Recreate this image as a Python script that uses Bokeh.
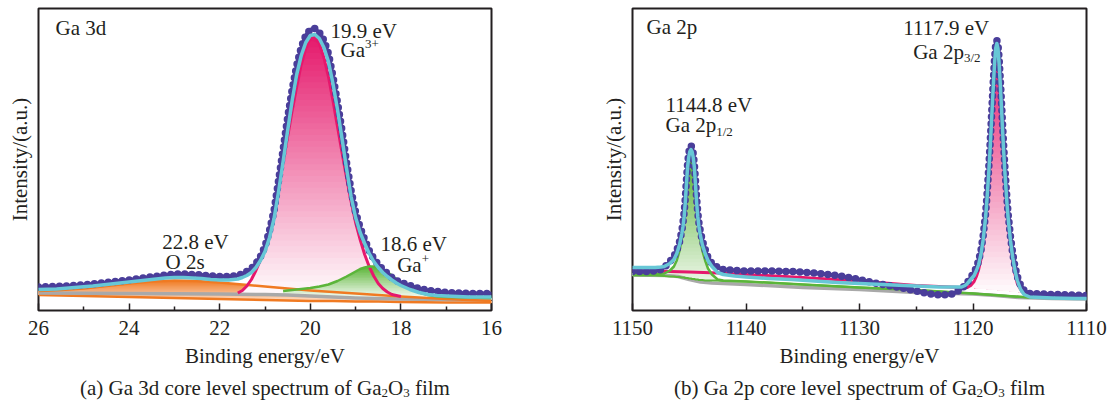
import numpy as np
from bokeh.plotting import figure
from bokeh.models import Range1d, Label, FixedTicker
from bokeh.layouts import row, column
from bokeh.embed import file_html
from bokeh.resources import INLINE

# ---------------- (a) Ga 3d ----------------
ga3d_energy = [26.0, 25.6, 25.2, 24.8, 24.4, 24.0, 23.6, 23.2, 23.0, 22.8, 22.6, 22.4, 22.2, 22.0,
               21.8, 21.6, 21.5, 21.4, 21.3, 21.2, 21.1, 21.0, 20.9, 20.8, 20.7, 20.6, 20.5, 20.4,
               20.3, 20.2, 20.1, 20.0, 19.9, 19.8, 19.7, 19.6, 19.5, 19.4, 19.3, 19.2, 19.1, 19.0,
               18.9, 18.8, 18.7, 18.6, 18.5, 18.4, 18.3, 18.2, 18.1, 18.0, 17.8, 17.6, 17.4, 17.2,
               17.0, 16.5, 16.0]
ga3d_counts = [23.5, 24, 25, 26.5, 28.5, 30.5, 33, 35.5, 36.5, 36.5, 36, 35.5, 34.5, 34,
               34, 35, 36.5, 39, 42, 47, 54, 64, 80, 100, 130, 161, 193, 221,
               245, 263, 275, 281, 282, 278, 270, 257, 234, 208, 180, 148, 120, 98,
               83, 71, 60, 52, 46, 41, 37, 33, 30, 28, 25, 22, 20, 19,
               18, 17, 17]
ga3d_fit = [21, 21.5, 23, 24.5, 26.5, 28.5, 30.5, 32.5, 33, 33, 32.5, 32, 31, 30.5,
            30.5, 31.5, 33, 35, 38, 43, 50, 59, 73, 92, 119, 149, 180, 210,
            236, 255, 268, 275, 276, 272, 263, 249, 227, 201, 172, 142, 114, 93,
            78, 67, 57, 49, 43, 38, 34, 30.5, 27.5, 25, 21, 18, 16, 15,
            14.5, 13.5, 13.5]
ga3d_bg_energy = [26, 24, 22, 21, 20.5, 20, 19.5, 19, 18.5, 18, 17, 16]
ga3d_bg = [17.5, 17, 16.5, 16, 15.5, 14.5, 13.5, 12.5, 12, 11.5, 11, 11]

o2s_energy = [26, 25.5, 25, 24.5, 24, 23.5, 23, 22.5, 22, 21.5, 21, 20.5, 20, 19.5, 19, 18.5, 18, 17, 16]
o2s_top = [19.5, 20.5, 22, 24.5, 27, 29, 30, 29.5, 28, 26, 24, 22, 20, 18.5, 17, 15.5, 14, 11.5, 9.5]
o2s_base = [15.5, 15, 14.5, 14, 13.5, 13, 12.5, 12, 11.5, 11, 10.5, 10, 9.5, 9.5, 9, 9, 8.5, 8, 8]

ga3plus_energy = [21.6, 21.5, 21.4, 21.3, 21.2, 21.1, 21.0, 20.9, 20.8, 20.7, 20.6, 20.5, 20.4, 20.3,
                  20.2, 20.1, 20.0, 19.93, 19.8, 19.7, 19.6, 19.5, 19.4, 19.3, 19.2, 19.1, 19.0, 18.9,
                  18.8, 18.7, 18.6, 18.5, 18.4, 18.3, 18.2, 18.0]
ga3plus_top = [17.5, 20, 24.5, 31, 40, 50.5, 64.5, 81.5, 100.5, 123, 148, 174, 200, 224,
               246, 262, 272, 275, 267, 253, 234, 210, 184, 158, 133, 109, 88, 71,
               56, 44, 34.5, 27, 22, 18.5, 16, 14]
ga3plus_base = [16, 16, 16, 16, 16, 16, 16, 15.5, 15.5, 15.5, 15.5, 15.5, 15, 15,
                15, 14.5, 14.5, 14, 14, 14, 13.5, 13.5, 13, 13, 13, 12.5, 12.5, 12.5,
                12.5, 12, 12, 12, 12, 12, 11.5, 11.5]

gaplus_energy = [20.6, 20.4, 20.2, 20.0, 19.8, 19.6, 19.4, 19.2, 19.0, 18.9, 18.8, 18.7, 18.6, 18.5,
                 18.4, 18.3, 18.2, 18.1, 18.0, 17.9, 17.8, 17.6, 17.4, 17.2, 17.0, 16.5, 16.0]
gaplus_top = [19.5, 20.5, 21.5, 22.5, 24, 26, 29.5, 34, 39, 41.5, 43, 44, 44, 43,
              41, 38.5, 35, 31.5, 28, 25, 22, 18, 15.5, 14, 13.5, 13, 12.5]
gaplus_base = [15.5, 15, 15, 14.5, 14, 14, 13.5, 13, 12.5, 12.5, 12.5, 12, 12, 12,
               12, 12, 11.5, 11.5, 11.5, 11.5, 11.5, 11, 11, 11, 11, 11, 11]

# ---------------- (b) Ga 2p ----------------
ga2p_energy = [1150, 1149, 1148, 1147.5, 1147.2, 1146.7, 1146.35, 1146.1, 1145.85, 1145.65,
               1145.55, 1145.45, 1145.35, 1145.25, 1145.15, 1145.05, 1144.95, 1144.85, 1144.75, 1144.65,
               1144.55, 1144.45, 1144.35, 1144.25, 1144.15, 1144.05, 1143.85, 1143.6, 1143.35, 1143.0,
               1142.5, 1142, 1141, 1140, 1138, 1136, 1134, 1132, 1130, 1128,
               1126, 1125, 1124, 1123, 1122, 1121.5, 1121, 1120.7, 1120.5, 1120.2,
               1119.9, 1119.7, 1119.5, 1119.3, 1119.1, 1118.9, 1118.8, 1118.7, 1118.6, 1118.5,
               1118.4, 1118.3, 1118.2, 1118.1, 1118.0, 1117.9, 1117.8, 1117.7, 1117.6, 1117.5,
               1117.4, 1117.3, 1117.2, 1117.1, 1117.0, 1116.9, 1116.7, 1116.5, 1116.3, 1116.1,
               1115.8, 1115.5, 1115, 1113, 1111, 1110]
ga2p_counts = [39, 39, 39.5, 41, 43, 49, 54, 60, 69, 80,
               88, 98, 112, 130, 146, 157, 163, 165, 163, 157,
               146, 130, 112, 98, 88, 81, 70, 61, 53, 47,
               43, 41, 40, 39.5, 39.5, 39, 37.5, 35, 31, 26,
               22, 19.5, 17, 15.5, 16, 18, 22, 25, 28, 33,
               38, 43, 50, 60, 75, 96, 110, 127, 145, 165,
               187, 210, 232, 252, 266, 270, 266, 252, 232, 210,
               187, 165, 145, 127, 110, 96, 74, 57, 44, 34,
               25, 20, 17, 16, 15.5, 15]
ga2p_fit = [43, 43, 43, 43.5, 44, 47, 51, 57, 66, 77,
            84, 94, 108, 126, 143, 153, 159, 161, 159, 153,
            143, 126, 108, 94, 84, 77, 66, 57, 50, 44,
            38, 36, 34.5, 33.5, 32, 31, 29.5, 28, 27, 26,
            25, 24.5, 24, 23.5, 23.5, 23.5, 23.5, 25, 27, 31,
            35, 40, 46, 56, 71, 92, 106, 123, 140, 160,
            182, 205, 227, 247, 262, 267, 262, 247, 227, 205,
            182, 160, 140, 123, 106, 92, 70, 53, 40, 30,
            21, 16, 13.5, 12.5, 12, 12]
ga2p_bg_energy = [1150, 1147, 1146, 1145, 1144, 1143, 1140, 1135, 1130, 1125, 1120, 1118, 1116, 1113, 1110]
ga2p_bg = [35.5, 35, 34, 31, 28.5, 27.5, 26, 23, 21, 18, 16.5, 15, 13, 12, 11.5]

p12_energy = [1150, 1148, 1147.2, 1146.7, 1146.35, 1146.1, 1145.85, 1145.65, 1145.55, 1145.45,
              1145.35, 1145.25, 1145.15, 1145.05, 1144.95, 1144.85, 1144.75, 1144.65, 1144.55, 1144.45,
              1144.35, 1144.25, 1144.15, 1144.05, 1143.85, 1143.6, 1143.35, 1143.0, 1142.5, 1142,
              1140, 1135, 1130, 1125, 1120, 1115, 1110]
p12_top = [37, 36.5, 37, 40, 44, 50, 60, 72, 80, 90,
           103, 120, 137, 149, 155, 157, 155, 149, 137, 120,
           103, 90, 80, 72, 60, 50, 42, 36, 31, 30,
           29, 26, 23, 20.5, 17, 13, 12]
p12_base = [35, 35, 34.5, 34, 34, 33.5, 33.5, 33, 33, 33,
            32.5, 32.5, 32.5, 32, 32, 32, 31.5, 31.5, 31.5, 31,
            31, 31, 30.5, 30.5, 30.5, 30, 30, 30, 30, 29.5,
            29, 26, 23, 20.5, 17, 13, 12]

p32_energy = [1150, 1145, 1142.5, 1135, 1130, 1125, 1121, 1120.5, 1120.2, 1119.9,
              1119.7, 1119.5, 1119.3, 1119.1, 1118.9, 1118.8, 1118.7, 1118.6, 1118.5, 1118.4,
              1118.3, 1118.2, 1118.1, 1118.0, 1117.9, 1117.8, 1117.7, 1117.6, 1117.5, 1117.4,
              1117.3, 1117.2, 1117.1, 1117.0, 1116.9, 1116.7, 1116.5, 1116.3, 1116.1, 1115.8,
              1115.5, 1115, 1112, 1110]
p32_top = [40, 38.5, 37.5, 33, 29.5, 25, 23, 23, 25, 29,
           34, 41, 51, 66, 87, 101, 118, 136, 156, 178,
           201, 223, 243, 258, 263, 258, 243, 223, 201, 178,
           156, 136, 118, 101, 87, 65, 48, 36, 27, 21,
           19, 17.5, 15.5, 14.5]
p32_base = [40, 38.5, 37.5, 33, 29.5, 25, 23, 22.8, 22.6, 22.4,
            22.2, 22, 21.8, 21.6, 21.4, 21.3, 21.2, 21.1, 21, 20.9,
            20.8, 20.7, 20.6, 20.5, 20.4, 20.3, 20.2, 20.1, 20, 19.9,
            19.8, 19.7, 19.6, 19.5, 19.4, 19.2, 19, 18.8, 18.6, 18.3,
            18, 17.5, 15.5, 14.5]

left_major_ticks = [26, 24, 22, 20, 18, 16]
left_minor_ticks = [25, 23, 21, 19, 17]
right_major_ticks = [1150, 1140, 1130, 1120, 1110]
right_minor_ticks = [1145, 1135, 1125, 1115]

# ---------------- styling ----------------
FONT = "Liberation Serif"
TXT = "#231f20"
PURPLE = "#4a3e9a"
CYAN = "#67c7d6"
PINK = "#e6186c"
GREEN = "#5bb53a"
ORANGE = "#f07a22"
GRAY = "#a9a9a9"

MAIN_H = 370   # height of the spectrum figures
CAP_H = 34     # height of the caption strip
BASE_FIX = 7   # label baseline correction (px)

TIMES_W = {' ': 250, '(': 333, ')': 333, 'a': 444, 'b': 500, 'c': 444, 'd': 500, 'e': 444,
           'f': 333, 'g': 500, 'i': 278, 'l': 278, 'm': 778, 'n': 500, 'o': 500, 'p': 500,
           'r': 333, 's': 389, 't': 278, 'u': 500, 'v': 500, 'y': 500, 'G': 722, 'O': 722,
           'V': 722, '.': 250, '/': 278, '+': 564}


def tw(s, size):
    return sum(TIMES_W.get(c, 500) for c in s) * size / 1000.0


def hex2rgb(h):
    h = h.lstrip('#')
    return [int(h[i:i + 2], 16) for i in (0, 2, 4)]


def mix(c0, c1, t):
    a, b = hex2rgb(c0), hex2rgb(c1)
    return "#%02x%02x%02x" % tuple(int(round(a[i] + (b[i] - a[i]) * t)) for i in range(3))


def grad_fill(p, x, top, base, c_top, c_bot, n=40):
    x = np.asarray(x, float)
    top = np.asarray(top, float)
    base = np.asarray(base, float)
    lo, hi = base.min(), top.max()
    for k in range(n, 0, -1):
        level = lo + (hi - lo) * k / n
        y2 = np.maximum(np.minimum(top, level), base)
        p.varea(x=x, y1=base, y2=y2, fill_color=mix(c_bot, c_top, (k - 0.5) / n))


def make_fig(x0, x1, width, bl, br, major, minor):
    p = figure(width=width, height=MAIN_H, x_range=Range1d(x0, x1), y_range=Range1d(0, 302),
               output_backend="svg", toolbar_location=None,
               min_border_left=bl, min_border_right=br, min_border_top=8,
               min_border_bottom=MAIN_H - 8 - 302)
    p.xgrid.visible = False
    p.ygrid.visible = False
    p.outline_line_color = TXT
    p.outline_line_width = 2
    p.outline_line_alpha = 1
    p.background_fill_color = "white"
    p.border_fill_color = "white"
    ax = p.xaxis[0]
    ax.ticker = FixedTicker(ticks=major, minor_ticks=minor)
    ax.axis_line_color = None
    ax.major_tick_in = 7
    ax.major_tick_out = 0
    ax.minor_tick_in = 4
    ax.minor_tick_out = 0
    ax.major_tick_line_color = TXT
    ax.major_tick_line_width = 1.5
    ax.minor_tick_line_color = TXT
    ax.minor_tick_line_width = 1.5
    ax.major_label_text_font = FONT
    ax.major_label_text_font_size = "21px"
    ax.major_label_text_color = TXT
    ax.major_label_standoff = 10
    ax.axis_label = "Binding energy/eV"
    ax.axis_label_text_font = FONT
    ax.axis_label_text_font_size = "21px"
    ax.axis_label_text_font_style = "normal"
    ax.axis_label_text_color = TXT
    ax.axis_label_standoff = 6
    ay = p.yaxis[0]
    ay.ticker = FixedTicker(ticks=[])
    ay.axis_line_color = None
    ay.major_tick_line_color = None
    ay.minor_tick_line_color = None
    ay.major_label_text_font_size = "0px"
    ay.axis_label = "Intensity/(a.u.)"
    ay.axis_label_text_font = FONT
    ay.axis_label_text_font_size = "21px"
    ay.axis_label_text_font_style = "normal"
    ay.axis_label_text_color = TXT
    ay.axis_label_standoff = 7
    return p


def put(p, tf, px, py, text, size=21, align="left", baseline="alphabetic", angle=0.0, ybottom=310):
    p.add_layout(Label(x=tf(px), y=ybottom - (py - BASE_FIX), text=text, text_font=FONT,
                       text_font_size="%gpx" % size, text_color=TXT,
                       text_align=align, text_baseline=baseline, angle=angle))


def data_lines(p, x, counts, fit):
    p.line(x, counts, line_color=PURPLE, line_width=3.5, line_join="round", line_cap="round")
    p.line(x, counts, line_color=PURPLE, line_width=7.5, line_dash="0 7", line_cap="round")
    p.line(x, fit, line_color=CYAN, line_width=3.5, line_join="round", line_cap="round")


# ---------------- left panel ----------------
p1 = make_fig(26, 16, 556, 38, 65, left_major_ticks, left_minor_ticks)
tf1 = lambda px: 26 - (px - 38) / 45.3

grad_fill(p1, o2s_energy, o2s_top, o2s_base, "#f07a22", "#fde6d6", 20)
grad_fill(p1, ga3plus_energy, ga3plus_top, ga3plus_base, "#e5186b", "#ffffff", 45)
grad_fill(p1, gaplus_energy, gaplus_top, gaplus_base, "#5ab436", "#ffffff", 20)
p1.line(o2s_energy, o2s_base, line_color=ORANGE, line_width=2.5, line_join="round")
p1.line(ga3d_bg_energy, ga3d_bg, line_color=GRAY, line_width=3.5, line_join="round")
p1.line(o2s_energy, o2s_top, line_color=ORANGE, line_width=2.5, line_join="round")
p1.line(ga3plus_energy, ga3plus_top, line_color=PINK, line_width=3, line_join="round")
p1.line(gaplus_energy, gaplus_top, line_color=GREEN, line_width=2.5, line_join="round")
data_lines(p1, ga3d_energy, ga3d_counts, ga3d_fit)

put(p1, tf1, 55, 34.5, "Ga 3d")
put(p1, tf1, 330, 37.3, "19.9 eV")
put(p1, tf1, 340, 56.7, "Ga")
put(p1, tf1, 340 + tw("Ga", 21), 50, "3+", size=13)
put(p1, tf1, 161.7, 248.3, "22.8 eV")
put(p1, tf1, 165, 268.3, "O 2s")
put(p1, tf1, 380, 250, "18.6 eV")
put(p1, tf1, 396.7, 271.7, "Ga")
put(p1, tf1, 396.7 + tw("Ga", 21), 265, "+", size=13)

# ---------------- right panel ----------------
p2 = make_fig(1150, 1110, 557, 76, 27, right_major_ticks, right_minor_ticks)
tf2 = lambda px: 1150 - (px - 632) / 11.35

grad_fill(p2, p12_energy, p12_top, p12_base, "#52ae2c", "#ffffff", 40)
grad_fill(p2, p32_energy, p32_top, p32_base, "#e5186b", "#ffffff", 45)
p2.line(ga2p_bg_energy, ga2p_bg, line_color=GRAY, line_width=3.5, line_join="round")
p2.line(p12_energy, p12_base, line_color=GREEN, line_width=2, line_join="round")
p2.line(p32_energy, p32_top, line_color=PINK, line_width=3, line_join="round")
p2.line(p12_energy, p12_top, line_color=GREEN, line_width=2.5, line_join="round")
data_lines(p2, ga2p_energy, ga2p_counts, ga2p_fit)

put(p2, tf2, 646, 33.3, "Ga 2p")
put(p2, tf2, 902.7, 34, "1117.9 eV")
put(p2, tf2, 912.7, 58.3, "Ga 2p")
put(p2, tf2, 912.7 + tw("Ga 2p", 21), 64, "3/2", size=13)
put(p2, tf2, 665, 111.7, "1144.8 eV")
put(p2, tf2, 665, 131.7, "Ga 2p")
put(p2, tf2, 665 + tw("Ga 2p", 21), 138.3, "1/2", size=13)

# ---------------- caption strip ----------------
cap = figure(width=1113, height=CAP_H, x_range=Range1d(0, 1113), y_range=Range1d(0, CAP_H),
             output_backend="svg", toolbar_location=None, x_axis_type=None, y_axis_type=None,
             min_border=0, min_border_left=0, min_border_right=0, min_border_top=0, min_border_bottom=0)
cap.outline_line_color = None
cap.xgrid.visible = False
cap.ygrid.visible = False
tfc = lambda px: px


def caption(center, lead):
    pieces = [(lead, 21, 0), ("2", 13, 5), ("O", 21, 0), ("3", 13, 5), ("film", 21, 0)]
    gaps = [0, 0, 0, tw(" ", 21), 0]
    total = sum(tw(s, sz) for s, sz, _ in pieces) + sum(gaps)
    x = center - total / 2
    for (s, sz, dy), g in zip(pieces, gaps):
        put(cap, tfc, x, 394 + dy, s, size=sz, ybottom=MAIN_H + CAP_H)
        x += tw(s, sz) + g


caption(264.5, "(a) Ga 3d core level spectrum of Ga")
caption(859, "(b) Ga 2p core level spectrum of Ga")

layout = column(row(p1, p2), cap)
open("out.html", "w").write(file_html(layout, INLINE))
